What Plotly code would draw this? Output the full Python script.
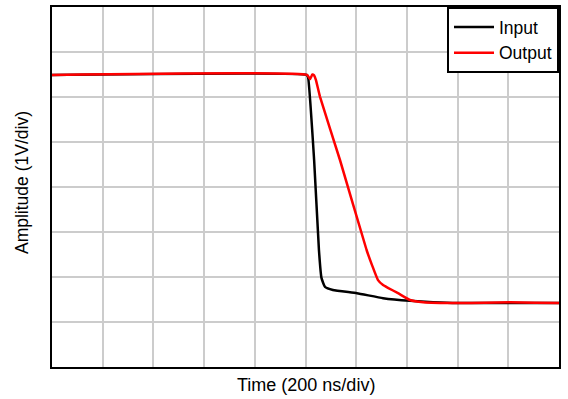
import plotly.graph_objects as go

# Time in ns (200 ns/div), amplitude in V (1 V/div)
input_t = [0, 1004, 1010, 1034, 1053, 1063, 1077, 1108, 1203, 1306, 1412, 1503, 1598, 2000]
input_v = [6.49, 6.49, 6.44, 4.60, 2.60, 1.98, 1.78, 1.71, 1.64, 1.53, 1.47, 1.44, 1.42, 1.42]

output_t = [0, 1006, 1018, 1027, 1034, 1041, 1057, 1136, 1241, 1262, 1286, 1306, 1325, 1365,
            1412, 1464, 1598, 1708, 1807, 1905, 2000]
output_v = [6.49, 6.49, 6.40, 6.50, 6.48, 6.38, 6.01, 4.60, 2.60, 2.27, 1.93, 1.82, 1.76, 1.64,
            1.49, 1.44, 1.42, 1.43, 1.44, 1.43, 1.42]

x_title = "Time (200 ns/div)"
y_title = "Amplitude (1V/div)"

fig = go.Figure()
fig.add_trace(go.Scatter(x=input_t, y=input_v, mode="lines", name="Input",
                         line=dict(color="black", width=2.5, shape="spline", smoothing=0.4)))
fig.add_trace(go.Scatter(x=output_t, y=output_v, mode="lines", name="Output",
                         line=dict(color="#ff0000", width=2.5, shape="spline", smoothing=0.4)))

axis_common = dict(showline=True, linecolor="black", linewidth=2, mirror=True,
                   showgrid=True, gridcolor="#cccccc", gridwidth=1.5,
                   showticklabels=False, ticks="", zeroline=False, automargin=False)

fig.update_layout(
    width=568, height=399,
    margin=dict(l=52, r=9, t=7, b=32),
    plot_bgcolor="white", paper_bgcolor="white",
    font=dict(family="Liberation Sans, Arial", size=18, color="black"),
    xaxis=dict(range=[0, 2000], dtick=200, **axis_common),
    yaxis=dict(range=[0, 8], dtick=1, **axis_common),
    legend=dict(x=1, y=1, xanchor="right", yanchor="top", bgcolor="white",
                bordercolor="black", borderwidth=2, font=dict(size=17.5),
                itemwidth=40, tracegroupgap=0),
    showlegend=True,
    annotations=[
        dict(text=x_title, xref="paper", yref="paper", x=0.5, y=0,
             xanchor="center", yanchor="middle", yshift=-18, showarrow=False,
             font=dict(size=18)),
        dict(text=y_title, xref="paper", yref="paper", x=0, y=0.5,
             xanchor="center", yanchor="middle", xshift=-30, yshift=4, textangle=-90,
             showarrow=False, font=dict(size=17.5)),
    ],
)

fig.write_html("out.html", config={"displayModeBar": False},
               post_script="document.body.style.margin='0';document.body.style.overflow='hidden';")
